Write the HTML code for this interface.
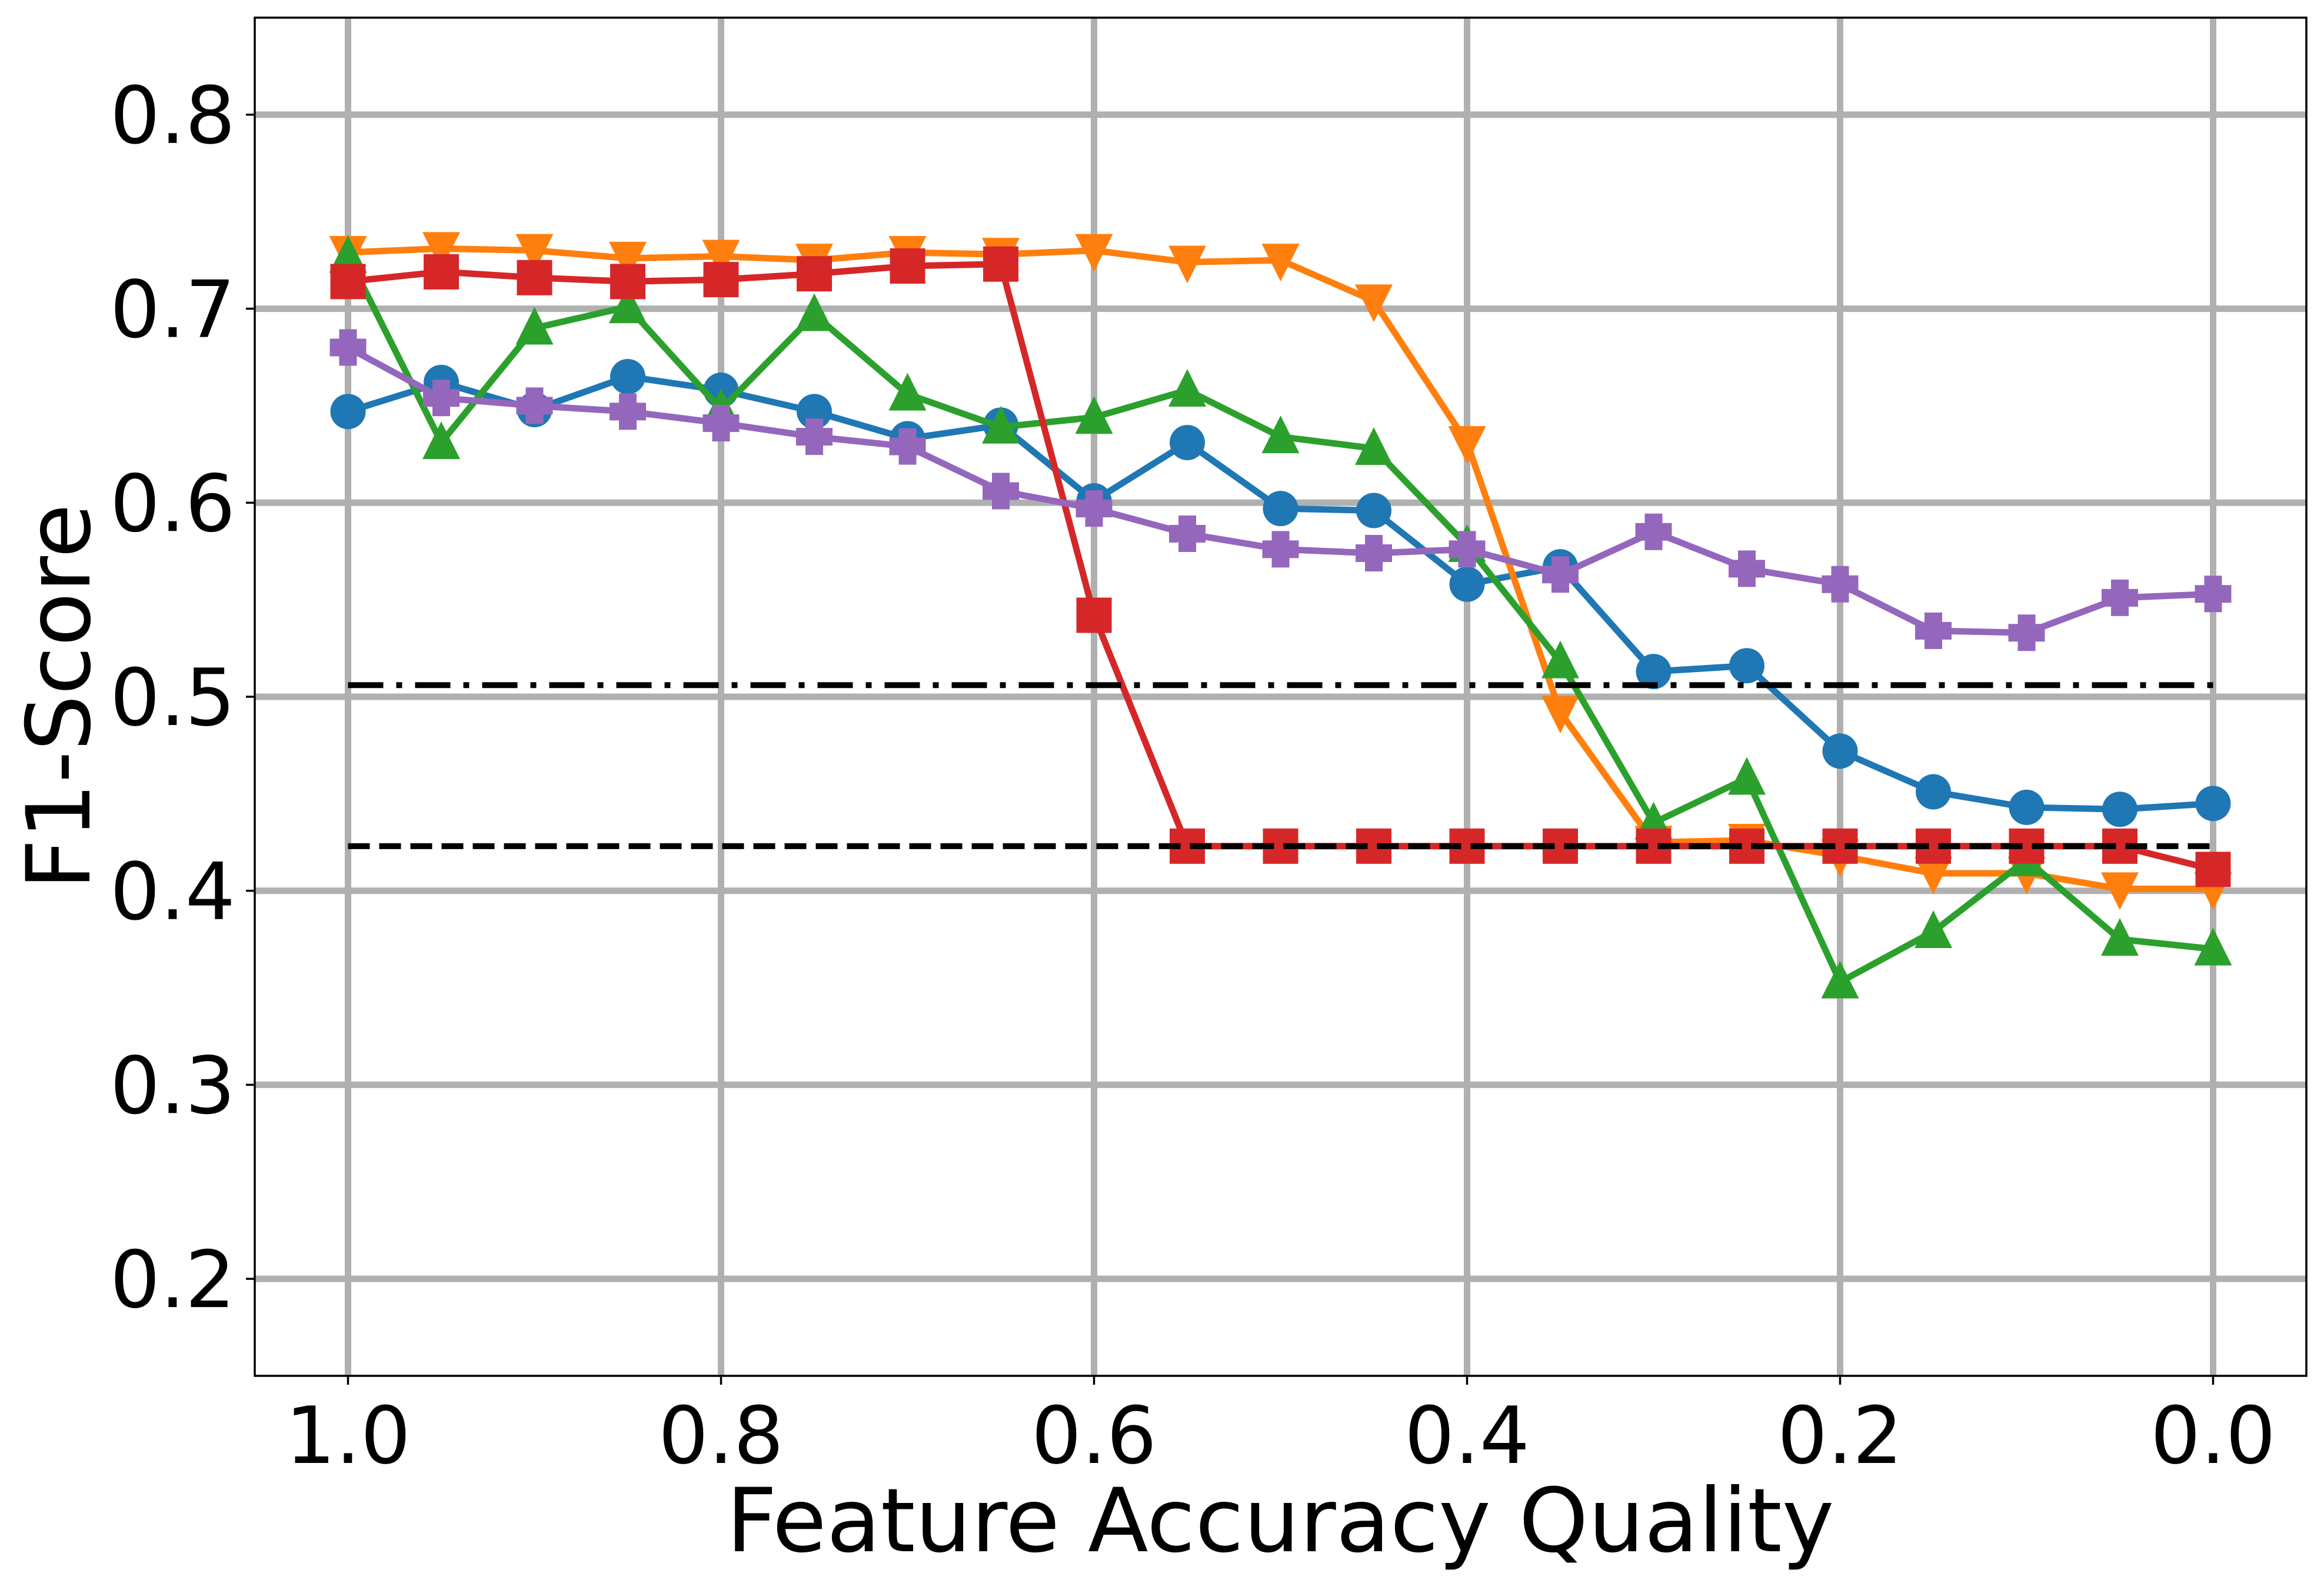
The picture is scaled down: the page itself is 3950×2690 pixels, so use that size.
<!DOCTYPE html>
<html><head><meta charset="utf-8"><style>
html,body{margin:0;padding:0;background:#fff;}
svg{display:block;font-family:"DejaVu Sans","Liberation Sans",sans-serif;}
</style></head><body>
<svg id="chart" width="3950" height="2690" viewBox="0 0 3950 2690" xmlns="http://www.w3.org/2000/svg">
<rect width="3950" height="2690" fill="#fff"/>
<g id="grid"></g>
<g id="series"></g>
<g id="baselines"></g>
<rect x="433" y="30" width="3487" height="2308" fill="none" stroke="#000" stroke-width="3.5"/>
<g id="ticks"></g>
<text x="2176" y="2636" font-size="150" text-anchor="middle">Feature Accuracy Quality</text>
<text transform="translate(152,1184) rotate(-90)" font-size="150" text-anchor="middle">F1-Score</text>
</svg>
<script>
const xValues = [1.0,0.95,0.9,0.85,0.8,0.75,0.7,0.65,0.6,0.55,0.5,0.45,0.4,0.35,0.3,0.25,0.2,0.15,0.1,0.05,0.0];
const blueValues = [0.647,0.662,0.648,0.665,0.658,0.647,0.633,0.640,0.601,0.631,0.597,0.596,0.558,0.567,0.513,0.516,0.472,0.451,0.443,0.442,0.445];
const orangeValues = [0.729,0.731,0.730,0.726,0.727,0.725,0.729,0.728,0.730,0.724,0.725,0.704,0.631,0.492,0.425,0.426,0.418,0.409,0.409,0.401,0.401];
const greenValues = [0.727,0.631,0.690,0.701,0.648,0.697,0.656,0.639,0.644,0.658,0.634,0.628,0.578,0.518,0.435,0.458,0.353,0.379,0.416,0.375,0.370];
const redValues = [0.714,0.719,0.716,0.714,0.715,0.718,0.722,0.723,0.542,0.423,0.423,0.423,0.423,0.423,0.423,0.423,0.423,0.423,0.423,0.423,0.411];
const purpleValues = [0.680,0.654,0.650,0.647,0.641,0.634,0.629,0.606,0.597,0.584,0.576,0.574,0.576,0.563,0.585,0.566,0.558,0.534,0.533,0.551,0.553];
const baselineDashDot = 0.506;
const baselineDashed = 0.423;
const xTicks = [1.0,0.8,0.6,0.4,0.2,0.0];
const xTickLabels = ["1.0","0.8","0.6","0.4","0.2","0.0"];
const yTicks = [0.2,0.3,0.4,0.5,0.6,0.7,0.8];
const yTickLabels = ["0.2","0.3","0.4","0.5","0.6","0.7","0.8"];

const L=433,R=3920,T=30,B=2338;
const xMin=1.05,xMax=-0.05,yMin=0.15,yMax=0.85;
function sx(v){return L+(v-xMin)/(xMax-xMin)*(R-L);}
function sy(v){return B-(v-yMin)/(yMax-yMin)*(B-T);}
const NS="http://www.w3.org/2000/svg";
function mk(tag,attrs,parent){const e=document.createElementNS(NS,tag);for(const k in attrs)e.setAttribute(k,attrs[k]);parent.appendChild(e);return e;}
const grid=document.getElementById('grid'),ticks=document.getElementById('ticks'),ser=document.getElementById('series'),base=document.getElementById('baselines');

xTicks.forEach((v,i)=>{
  const g=mk('line',{x1:sx(v),x2:sx(v),y1:T,y2:B,stroke:'#b0b0b0','stroke-width':11},grid);
  
  
  const t=mk('line',{x1:sx(v),x2:sx(v),y1:B,y2:B+15,stroke:'#000','stroke-width':3.5},ticks);
  
  
  const l=mk('text',{x:sx(v),y:B+148,'font-size':134,'text-anchor':'middle'},ticks);
  l.textContent=xTickLabels[i];
  
  
});
yTicks.forEach((v,i)=>{
  const g=mk('line',{x1:L,x2:R,y1:sy(v),y2:sy(v),stroke:'#b0b0b0','stroke-width':11},grid);
  
  
  const t=mk('line',{x1:L-15,x2:L,y1:sy(v),y2:sy(v),stroke:'#000','stroke-width':3.5},ticks);
  
  
  const l=mk('text',{x:L-33,y:sy(v)+48,'font-size':134,'text-anchor':'end'},ticks);
  l.textContent=yTickLabels[i];
  
  
});

function marker(shape,x,y,color,g){
  let e;
  if(shape==='circle') e=mk('circle',{cx:x,cy:y,r:30,fill:color},g);
  else if(shape==='down') e=mk('polygon',{points:`${x-32},${y-28} ${x+32},${y-28} ${x},${y+36}`,fill:color},g);
  else if(shape==='up') e=mk('polygon',{points:`${x-32},${y+28} ${x+32},${y+28} ${x},${y-36}`,fill:color},g);
  else if(shape==='square') e=mk('rect',{x:x-30,y:y-30,width:60,height:60,fill:color},g);
  else e=mk('path',{d:`M${x-15},${y-31}h30v16h16v30h-16v16h-30v-16h-16v-30h16z`,fill:color},g);
  return e;
}
function series(vals,color,shape,name){
  const g=mk('g',{},ser);
  
  
  const pts=vals.map((v,i)=>sx(xValues[i])+','+sy(v)).join(' ');
  const pl=mk('polyline',{points:pts,fill:'none',stroke:color,'stroke-width':11,'stroke-linejoin':'round'},g);
  
  
  vals.forEach((v,i)=>{
    const m=marker(shape,sx(xValues[i]),sy(v),color,g);
    
    
  });
}
series(blueValues,'#1f77b4','circle','blue-series');
series(orangeValues,'#ff7f0e','down','orange-series');
series(greenValues,'#2ca02c','up','green-series');
series(redValues,'#d62728','square','red-series');
series(purpleValues,'#9467bd','plus','purple-series');

const b1=mk('line',{x1:sx(1.0),x2:sx(0.0),y1:sy(baselineDashDot),y2:sy(baselineDashDot),stroke:'#000','stroke-width':10,'stroke-dasharray':'60 22 10 22'},base);


const b2=mk('line',{x1:sx(1.0),x2:sx(0.0),y1:sy(baselineDashed),y2:sy(baselineDashed),stroke:'#000','stroke-width':10,'stroke-dasharray':'37 16'},base);


</script>
</body></html>
